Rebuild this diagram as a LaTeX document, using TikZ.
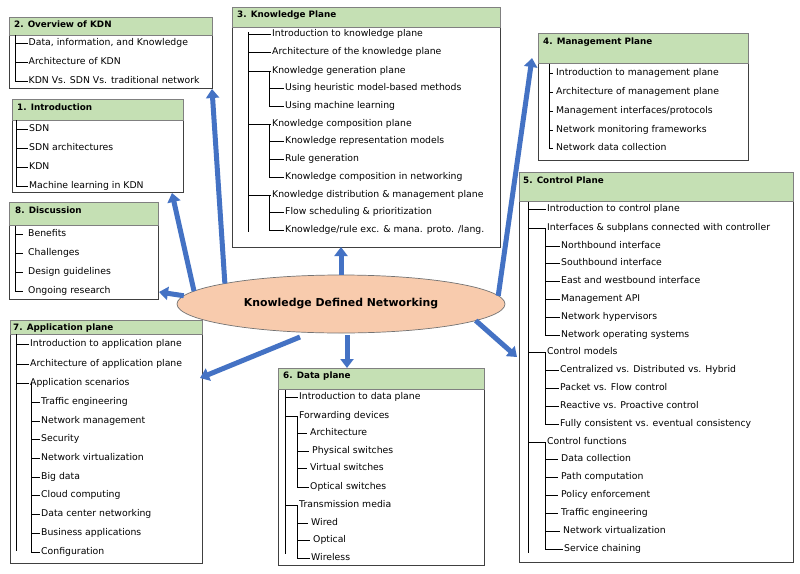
\documentclass[tikz,border=0pt]{standalone}
\usepackage{fontspec}
\setmainfont{DejaVu Sans}
\usetikzlibrary{arrows.meta,calc,shapes.geometric}
\definecolor{hdr}{HTML}{C5E0B4}
\definecolor{arr}{HTML}{4472C4}
\definecolor{peach}{HTML}{F8CBAD}
\begin{document}
\begin{tikzpicture}[x=1pt,y=-1pt,
  item/.style={anchor=west,inner sep=1pt,text height=7pt,text depth=2pt,font=\fontsize{9.3}{10}\selectfont},
  frame/.style={draw=black!75,line width=0.7pt,anchor=north west,inner sep=0pt,outer sep=0pt,fill=white},
  hdrbox/.style={draw=black!50,fill=hdr,line width=0.6pt,anchor=north west,inner sep=0pt,outer sep=0pt},
  htext/.style={anchor=west,inner sep=0pt,text height=7pt,text depth=2pt,font=\bfseries\fontsize{8.8}{10}\selectfont},
  tree/.style={line width=0.9pt,black},
  shorttick/.style={tree,shorten >=2pt},
  bigarrow/.style={draw=arr,line width=5pt,-{Triangle[width=13pt,length=9pt]}}
]
\useasboundingbox (0,0) rectangle (800,573);
\fill[white] (0,0) rectangle (800,573);

% ---------- Box 1: Introduction
\node[frame,minimum width=171,minimum height=93] (b1) at (12,99) {};
\node[hdrbox,minimum width=171,minimum height=21] (h1) at (12,99) {};
\node[htext] (t1) at (17,108) {1. Introduction};
\node[item] (i1a) at (28,129) {SDN};
\node[item] (i1b) at (28,148) {SDN architectures};
\node[item] (i1c) at (28,167) {KDN};
\node[item] (i1d) at (28,186) {Machine learning in KDN};
\coordinate (L1) at (16,120);
\foreach \n in {i1a,i1b,i1c} \draw[tree] (L1 |- \n.west) -- (\n.west);
\draw[tree] (L1) |- (i1d.west);

% ---------- Box 2: Overview
\node[frame,minimum width=203,minimum height=71] (b2) at (9,17) {};
\node[hdrbox,minimum width=203,minimum height=18] (h2) at (9,17) {};
\node[htext] (t2) at (14,25) {2. Overview of KDN};
\node[item] (i2a) at (27.5,43) {Data, information, and Knowledge};
\node[item] (i2b) at (27.5,62) {Architecture of KDN};
\node[item] (i2c) at (27.5,81) {KDN Vs. SDN Vs. traditional network};
\coordinate (L2) at (15,35);
\foreach \n in {i2a,i2b} \draw[tree] (L2 |- \n.west) -- (\n.west);
\draw[tree] (L2) |- (i2c.west);

% ---------- Box 8: Discussion
\node[frame,minimum width=149,minimum height=97] (b8) at (9,202) {};
\node[hdrbox,minimum width=149,minimum height=23] (h8) at (9,202) {};
\node[htext] (t8) at (15,211) {8. Discussion};
\node[item] (i8a) at (27,234) {Benefits};
\node[item] (i8b) at (27,253) {Challenges};
\node[item] (i8c) at (27,272) {Design guidelines};
\node[item] (i8d) at (27,291) {Ongoing research};
\coordinate (L8) at (15,226);
\foreach \n in {i8a,i8b,i8c} \draw[tree,shorten >=4pt] (L8 |- \n.west) -- (\n.west);
\draw[tree,shorten >=4pt] (L8) |- (i8d.west);

% ---------- Box 3: Knowledge Plane
\node[frame,minimum width=268,minimum height=240] (b3) at (232,7) {};
\node[hdrbox,minimum width=268,minimum height=20] (h3) at (232,7) {};
\node[htext] (t3) at (237,15) {3. Knowledge Plane};
\node[item] (k1) at (271,34) {Introduction to knowledge plane};
\node[item] (k2) at (271,52) {Architecture of the knowledge plane};
\node[item] (k3) at (271,71) {Knowledge generation plane};
\node[item] (k3a) at (284,88) {Using heuristic model-based methods};
\node[item] (k3b) at (284,106) {Using machine learning};
\node[item] (k4) at (271,124) {Knowledge composition plane};
\node[item] (k4a) at (284,141) {Knowledge representation models};
\node[item] (k4b) at (284,159) {Rule generation};
\node[item] (k4c) at (284,177) {Knowledge composition in networking};
\node[item] (k5) at (271,195) {Knowledge distribution \& management plane};
\node[item] (k5a) at (284,212) {Flow scheduling \& prioritization};
\node[item] (k5b) at (284,230) {Knowledge/rule exc. \& mana. proto. /lang.};
\coordinate (L3) at (248,32);
\coordinate (L3e) at (248,232);
\coordinate (S3) at (269,0);
\draw[tree] (L3) -- (L3e);
\foreach \n in {k1,k2,k3,k4,k5} \draw[tree] (L3 |- \n.west) -- (\n.west);
\draw[tree] (S3 |- k3.west) |- (k3b.west);
\draw[tree] (S3 |- k3a.west) -- (k3a.west);
\draw[tree] (S3 |- k4.west) |- (k4c.west);
\foreach \n in {k4a,k4b} \draw[tree] (S3 |- \n.west) -- (\n.west);
\draw[tree] (S3 |- k5.west) |- (k5b.west);
\draw[tree] (S3 |- k5a.west) -- (k5a.west);

% ---------- Box 4: Management Plane
\node[frame,minimum width=210,minimum height=127] (b4) at (538,33) {};
\node[hdrbox,minimum width=210,minimum height=30] (h4) at (538,33) {};
\node[htext] (t4) at (543,42) {4. Management Plane};
\node[item] (m1) at (555,73) {Introduction to management plane};
\node[item] (m2) at (555,92) {Architecture of management plane};
\node[item] (m3) at (555,111) {Management interfaces/protocols};
\node[item] (m4) at (555,130) {Network monitoring frameworks};
\node[item] (m5) at (555,148) {Network data collection};
\coordinate (L4) at (549,64);
\foreach \n in {m1,m2,m3,m4} \draw[tree,shorten >=2pt] (L4 |- \n.west) -- (\n.west);
\draw[tree,shorten >=2pt] (L4) |- (m5.west);

% ---------- Box 5: Control Plane
\node[frame,minimum width=274,minimum height=390] (b5) at (519,172) {};
\node[hdrbox,minimum width=274,minimum height=29] (h5) at (519,172) {};
\node[htext] (t5) at (523,181) {5. Control Plane};
\node[item] (c1) at (546,209) {Introduction to control plane};
\node[item] (c2) at (546,228) {Interfaces \& subplans connected with controller};
\node[item] (c2a) at (560,246) {Northbound interface};
\node[item] (c2b) at (560,263) {Southbound interface};
\node[item] (c2c) at (560,281) {East and westbound interface};
\node[item] (c2d) at (560,299) {Management API};
\node[item] (c2e) at (560,317) {Network hypervisors};
\node[item] (c2f) at (560,335) {Network operating systems};
\node[item] (c3) at (546,352) {Control models};
\node[item] (c3a) at (559,370) {Centralized vs. Distributed vs. Hybrid};
\node[item] (c3b) at (559,388) {Packet vs. Flow control};
\node[item] (c3c) at (559,406) {Reactive vs. Proactive control};
\node[item] (c3d) at (559,424) {Fully consistent vs. eventual consistency};
\node[item] (c4) at (546,442) {Control functions};
\node[item] (c4a) at (560,459) {Data collection};
\node[item] (c4b) at (560,477) {Path computation};
\node[item] (c4c) at (560,495) {Policy enforcement};
\node[item] (c4d) at (560,513) {Traffic engineering};
\node[item] (c4e) at (562,531) {Network virtualization};
\node[item] (c4f) at (563,549) {Service chaining};
\coordinate (L5) at (528,202);
\coordinate (L5e) at (528,553);
\coordinate (S5) at (545,0);
\draw[tree] (L5) -- (L5e);
\foreach \n in {c1,c2,c3,c4} \draw[tree] (L5 |- \n.west) -- (\n.west);
\draw[tree] (S5 |- c2.west) |- (c2f.west);
\foreach \n in {c2a,c2b,c2c,c2d,c2e} \draw[tree] (S5 |- \n.west) -- (\n.west);
\draw[tree] (S5 |- c3.west) |- (c3d.west);
\foreach \n in {c3a,c3b,c3c} \draw[tree] (S5 |- \n.west) -- (\n.west);
\draw[tree] (S5 |- c4.west) |- (c4f.west);
\foreach \n in {c4a,c4b,c4c,c4d,c4e} \draw[tree,shorten >=2pt] (S5 |- \n.west) -- (\n.west);

% ---------- Box 7: Application plane
\node[frame,minimum width=192,minimum height=243] (b7) at (10,320) {};
\node[hdrbox,minimum width=192,minimum height=14] (h7) at (10,320) {};
\node[htext] (t7) at (13,327.5) {7. Application plane};
\node[item] (p1) at (29,344) {Introduction to application plane};
\node[item] (p2) at (29,364) {Architecture of application plane};
\node[item] (p3) at (29,383) {Application scenarios};
\node[item] (p3a) at (40,402) {Traffic engineering};
\node[item] (p3b) at (40,421) {Network management};
\node[item] (p3c) at (40,439) {Security};
\node[item] (p3d) at (40,458) {Network virtualization};
\node[item] (p3e) at (40,477) {Big data};
\node[item] (p3f) at (40,495) {Cloud computing};
\node[item] (p3g) at (40,514) {Data center networking};
\node[item] (p3h) at (40,533) {Business applications};
\node[item] (p3i) at (40,552) {Configuration};
\coordinate (L7) at (16,334);
\coordinate (L7e) at (16,551);
\coordinate (S7) at (31,0);
\draw[tree] (L7) -- (L7e);
\foreach \n in {p1,p2,p3} \draw[tree] (L7 |- \n.west) -- (\n.west);
\draw[tree] (S7 |- p3.west) |- (p3i.west);
\foreach \n in {p3a,p3b,p3c,p3d,p3e,p3f,p3g,p3h} \draw[tree] (S7 |- \n.west) -- (\n.west);

% ---------- Box 6: Data plane
\node[frame,minimum width=206,minimum height=197] (b6) at (278,368) {};
\node[hdrbox,minimum width=206,minimum height=21] (h6) at (278,368) {};
\node[htext] (t6) at (283,376) {6. Data plane};
\node[item] (d1) at (298,397) {Introduction to data plane};
\node[item] (d2) at (298,416) {Forwarding devices};
\node[item] (d2a) at (309,433) {Architecture};
\node[item] (d2b) at (311,451) {Physical switches};
\node[item] (d2c) at (309,468) {Virtual switches};
\node[item] (d2d) at (309,487) {Optical switches};
\node[item] (d3) at (298,505) {Transmission media};
\node[item] (d3a) at (310,523) {Wired};
\node[item] (d3b) at (312,540) {Optical};
\node[item] (d3c) at (310,558) {Wireless};
\coordinate (L6) at (285,390);
\coordinate (L6e) at (285,554);
\coordinate (S6) at (297,0);
\draw[tree] (L6) -- (L6e);
\foreach \n in {d1,d2,d3} \draw[tree] (L6 |- \n.west) -- (\n.west);
\draw[tree] (S6 |- d2.west) |- (d2d.west);
\foreach \n in {d2a,d2b,d2c} \draw[tree,shorten >=2pt] (S6 |- \n.west) -- (\n.west);
\draw[tree] (S6 |- d3.west) |- (d3c.west);
\foreach \n in {d3a,d3b} \draw[tree,shorten >=2pt] (S6 |- \n.west) -- (\n.west);

% ---------- Centre ellipse
\node[ellipse,draw=black!55,line width=0.7pt,fill=peach,minimum width=328,minimum height=58,inner sep=0pt,outer sep=0pt,
      font=\bfseries\fontsize{10.9}{12}\selectfont] (kdn) at (341,304) {Knowledge Defined Networking};

% ---------- Arrows
\coordinate (e1) at ($(b1.south east)+(-11,1)$);
\coordinate (e2) at ($(b2.south east)+(0,1)$);
\coordinate (e4) at ($(b4.north west)+(-6,25)$);
\coordinate (e5) at ($(b5.north west)+(-2,185)$);
\coordinate (s6) at ($(kdn.south)+(6,2)$);
\coordinate (s7) at ($(kdn.south)+(-41,4)$);
\coordinate (e7) at ($(b7.north east)+(-2,58)$);
\coordinate (e8) at ($(b8.south east)+(1,-7)$);
\draw[bigarrow] (kdn.175.5) -- (e1);
\draw[bigarrow] (kdn.170) -- (e2);
\draw[bigarrow] (kdn.north) -- (kdn.north |- b3.south);
\draw[bigarrow] (kdn.3) -- (e4);
\draw[bigarrow] (kdn.-7.5) -- (e5);
\draw[bigarrow] (s6) -- (s6 |- b6.north);
\draw[bigarrow] (s7) -- (e7);
\draw[bigarrow] (kdn.177.5) -- (e8);
\end{tikzpicture}
\end{document}
